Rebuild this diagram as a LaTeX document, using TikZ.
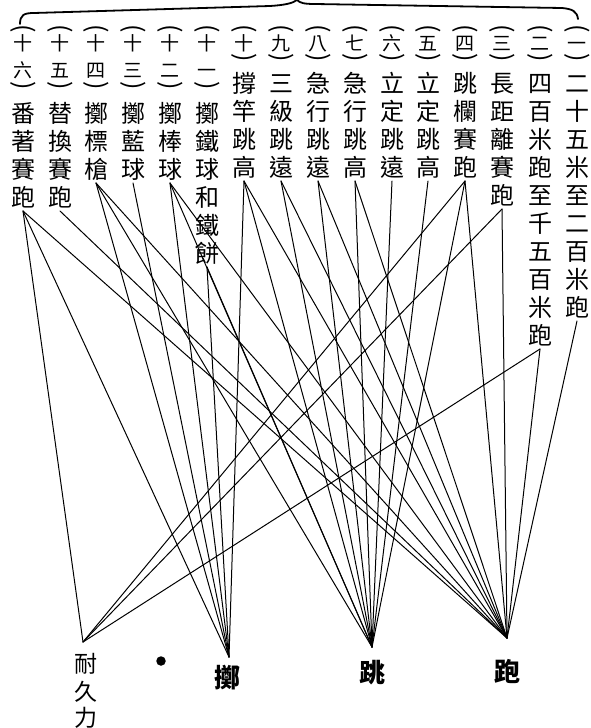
\documentclass[tikz,border=0pt]{standalone}
\usepackage{fontspec}
\newfontfamily\cjk{Noto Sans CJK TC}
\tikzset{
  glyph/.style={inner sep=0pt, font=\cjk\fontsize{24}{24}\selectfont, text height=21.1pt, text depth=2.9pt},
  numglyph/.style={inner sep=0pt, font=\cjk\fontsize{19}{19}\selectfont, text height=16.7pt, text depth=2.3pt},
  parglyph/.style={inner sep=0pt, rotate=-90, font=\cjk\fontsize{25}{25}\selectfont},
  biglabel/.style={inner sep=0pt, font=\cjk\bfseries\fontsize{26}{26}\selectfont, text height=22.9pt, text depth=3.1pt},
  smalllabel/.style={inner sep=0pt, font=\cjk\fontsize{23}{23}\selectfont, text height=20.2pt, text depth=2.8pt},
  link/.style={line width=1pt, line cap=round},
  bracepath/.style={line width=1.8pt, line cap=round, line join=round},
}
% #1 id, #2 x, #3 y of closing paren, #4 y of first text glyph, #5 number glyphs, #6 text glyphs
\newcommand\vcolumn[6]{%
  \node[parglyph] (#1-open) at (#2,29) {(};
  \foreach \g [count=\i] in {#5} {\node[numglyph] (#1-n\i) at (#2,{43+(\i-1)*27}) {\g};}
  \node[parglyph] (#1-close) at (#2,#3) {)};
  \foreach \g [count=\i] in {#6} {\node[glyph] (#1-t\i) at (#2,{#4+(\i-1)*28}) {\g}; \xdef\vlast{\i}}
  \coordinate (#1) at (#2,{#4+(\vlast-1)*28+14});
}
\begin{document}
\begin{tikzpicture}[x=1pt,y=-1pt]
\useasboundingbox (0,0) rectangle (591,728);
% brace
\draw[bracepath] (20,24) .. controls (20,15) and (24,13) .. (34,13)
  -- (270,6) .. controls (286,5) and (293,3) .. (297,0)
  .. controls (300,3) and (304,4) .. (315,4)
  -- (562,8) .. controls (572,9) and (577,11) .. (578,19);
% columns
\vcolumn{c1}{577}{58}{83}{一}{二,十,五,米,至,二,百,米,跑}
\vcolumn{c2}{540}{58}{83}{二}{四,百,米,跑,至,千,五,百,米,跑}
\vcolumn{c3}{502}{58}{83}{三}{長,距,離,賽,跑}
\vcolumn{c4}{465}{58}{83}{四}{跳,欄,賽,跑}
\vcolumn{c5}{428}{58}{83}{五}{立,定,跳,高}
\vcolumn{c6}{392}{58}{83}{六}{立,定,跳,遠}
\vcolumn{c7}{355}{58}{83}{七}{急,行,跳,高}
\vcolumn{c8}{318}{58}{83}{八}{急,行,跳,遠}
\vcolumn{c9}{281}{58}{83}{九}{三,級,跳,遠}
\vcolumn{c10}{244}{58}{83}{十}{撐,竿,跳,高}
\vcolumn{c11}{207}{86}{113}{十,一}{擲,鐵,球,和,鐵,餅}
\vcolumn{c12}{170}{86}{113}{十,二}{擲,棒,球}
\vcolumn{c13}{133}{86}{113}{十,三}{擲,藍,球}
\vcolumn{c14}{96}{86}{113}{十,四}{擲,標,槍}
\vcolumn{c15}{60}{86}{113}{十,五}{替,換,賽,跑}
\vcolumn{c16}{23}{86}{113}{十,六}{番,著,賽,跑}
% targets
\coordinate (naiTop) at (83,642);
\coordinate (zhiTop) at (229,657);
\coordinate (tiaoTop) at (372,647);
\coordinate (paoTop) at (507,638);
\node[smalllabel] (nai-1) at (86,664) {耐};
\node[smalllabel] (nai-2) at (86,692) {久};
\node[smalllabel] (nai-3) at (86,718) {力};
\node[biglabel] (zhi) at (227,678) {擲};
\node[biglabel] (tiao) at (372,673) {跳};
\node[biglabel] (pao) at (507,672) {跑};
\node[circle, fill, inner sep=0pt, minimum size=9.5pt] (dot) at (161,661) {};
% connectors
\foreach \a/\b in {c1/paoTop, c2/paoTop, c2/naiTop, c3/paoTop, c3/naiTop,
  c4/paoTop, c4/tiaoTop, c4/naiTop, c5/tiaoTop, c6/tiaoTop,
  c7/tiaoTop, c7/paoTop, c8/tiaoTop, c8/paoTop, c9/tiaoTop, c9/paoTop,
  c10/zhiTop, c10/tiaoTop, c10/paoTop, c11/zhiTop, c11/tiaoTop,
  c12/zhiTop, c12/tiaoTop, c12/paoTop, c13/zhiTop,
  c14/zhiTop, c14/tiaoTop, c14/paoTop, c15/paoTop,
  c16/naiTop, c16/zhiTop, c16/paoTop}
  \draw[link] (\a) -- (\b);
\end{tikzpicture}
\end{document}
